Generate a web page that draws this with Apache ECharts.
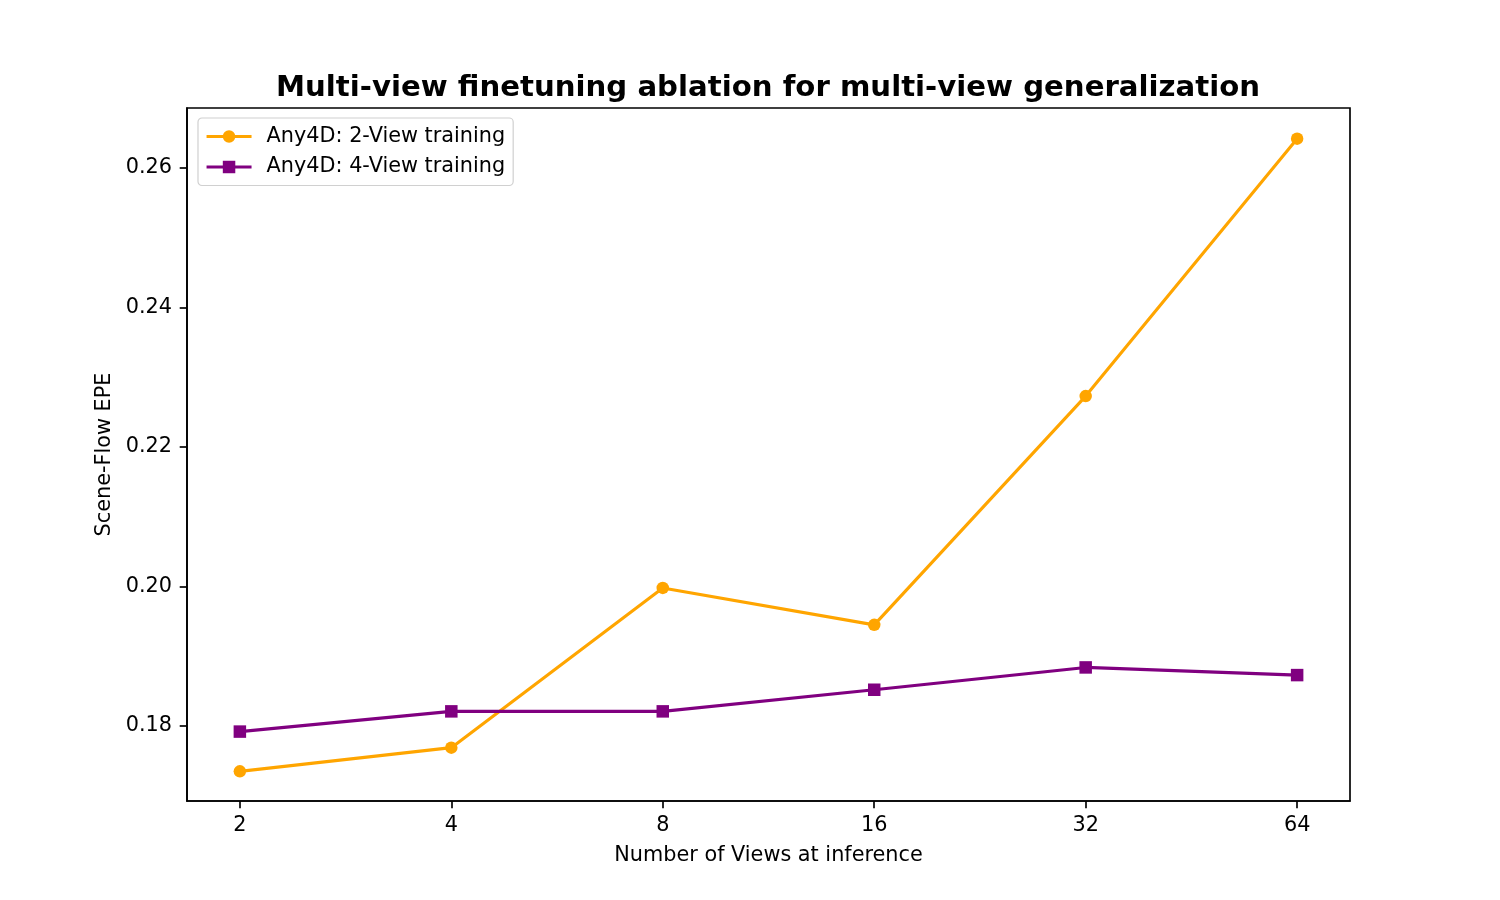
<!DOCTYPE html>
<html>
<head>
<meta charset="utf-8">
<script src="https://cdn.jsdelivr.net/npm/echarts@6/dist/echarts.min.js"></script>
<style>
html,body{margin:0;padding:0;background:#fff;}
#main{width:1500px;height:900px;}
</style>
</head>
<body>
<div id="main"></div>
<script>
const views = [2, 4, 8, 16, 32, 64];
const twoViewEPE = [0.1735, 0.1769, 0.1998, 0.1945, 0.2273, 0.2642];
const fourViewEPE = [0.1792, 0.1821, 0.1821, 0.1852, 0.1884, 0.1873];
const yTicks = [0.18, 0.20, 0.22, 0.24, 0.26];
const seriesNames = ['Any4D: 2-View training', 'Any4D: 4-View training'];

const xLog = views.map(v => Math.log2(v));
const font = 'DejaVu Sans';
const fs = 20.8;

const chart = echarts.init(document.getElementById('main'), null, {renderer: 'canvas'});
chart.setOption({
  animation: false,
  backgroundColor: '#ffffff',
  title: {
    text: 'Multi-view finetuning ablation for multi-view generalization',
    left: 763,
    top: 69,
    textAlign: 'center',
    textStyle: {fontFamily: font, fontWeight: 'bold', fontSize: 29.2, color: '#000'}
  },
  grid: {
    left: 187, right: 150, top: 108, bottom: 99,
    show: true, borderColor: '#000', borderWidth: 1.67, backgroundColor: 'transparent'
  },
  legend: {
    orient: 'vertical',
    left: 198, top: 118,
    padding: [8, 8, 8, 7],
    itemGap: 9.5,
    itemWidth: 45,
    itemHeight: 15.6,
    backgroundColor: 'rgba(255,255,255,0.8)',
    borderColor: '#d0d0d0',
    borderWidth: 1.2,
    borderRadius: 4,
    lineStyle: {width: 3.1},
    textStyle: {fontFamily: font, fontSize: fs, color: '#000', padding: [0, 0, 0, 10]},
    data: seriesNames
  },
  xAxis: {
    type: 'value',
    min: 0.75, max: 6.25,
    name: 'Number of Views at inference',
    nameLocation: 'middle',
    nameGap: 44,
    nameTextStyle: {fontFamily: font, fontSize: fs, color: '#000'},
    axisLine: {show: true, onZero: false, lineStyle: {color: '#000', width: 1.67}},
    axisTick: {show: true, inside: false, length: 7.3, lineStyle: {color: '#000', width: 1.67}, customValues: xLog},
    axisLabel: {
      customValues: xLog,
      margin: 14,
      fontFamily: font, fontSize: fs, color: '#000',
      formatter: v => String(Math.round(Math.pow(2, v)))
    },
    splitLine: {show: false}
  },
  yAxis: {
    type: 'value',
    min: 0.16925, max: 0.2686,
    name: 'Scene-Flow EPE',
    nameLocation: 'middle',
    nameGap: 67,
    nameTextStyle: {fontFamily: font, fontSize: fs, color: '#000'},
    axisLine: {show: true, onZero: false, lineStyle: {color: '#000', width: 1.67}},
    axisTick: {show: true, inside: false, length: 7.3, lineStyle: {color: '#000', width: 1.67}, customValues: yTicks},
    axisLabel: {
      customValues: yTicks,
      margin: 15,
      fontFamily: font, fontSize: fs, color: '#000',
      formatter: v => v.toFixed(2)
    },
    splitLine: {show: false}
  },
  series: [
    {
      name: seriesNames[0],
      type: 'line',
      data: xLog.map((x, i) => [x, twoViewEPE[i]]),
      symbol: 'circle',
      symbolSize: 12.5,
      lineStyle: {color: '#FFA500', width: 3.1},
      itemStyle: {color: '#FFA500'},
      z: 2
    },
    {
      name: seriesNames[1],
      type: 'line',
      data: xLog.map((x, i) => [x, fourViewEPE[i]]),
      symbol: 'rect',
      symbolSize: 12.5,
      lineStyle: {color: '#800080', width: 3.1},
      itemStyle: {color: '#800080'},
      z: 3
    }
  ]
});
</script>
</body>
</html>
